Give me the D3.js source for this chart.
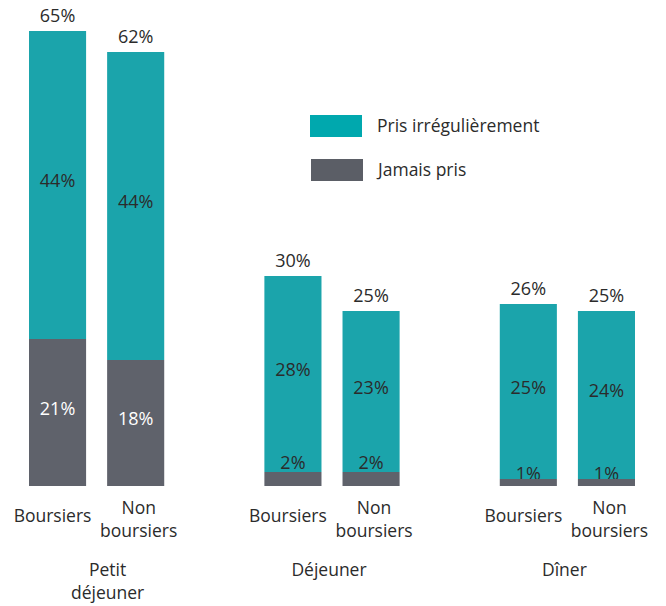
<!DOCTYPE html>
<html>
<head>
<meta charset="utf-8">
<script src="https://cdn.jsdelivr.net/npm/d3@7"></script>
<style>
  html, body { margin: 0; padding: 0; background: #fff; }
  svg text { font-family: "Open Sans", sans-serif; }
</style>
</head>
<body>
<svg id="chart" width="666" height="606"></svg>
<script>
// Meal groups and student categories
const meals = ["Petit déjeuner", "Déjeuner", "Dîner"];
const mealLines = [["Petit", "déjeuner"], ["Déjeuner"], ["Dîner"]];
const statuses = ["Boursiers", "Non boursiers"];
const statusLines = [["Boursiers"], ["Non", "boursiers"]];

// Share of students (%) per meal, ordered [Boursiers, Non boursiers]
const jamaisPris = [[21, 18], [2, 2], [1, 1]];
const prisIrregulierement = [[44, 44], [28, 23], [25, 24]];

const seriesNames = ["Pris irrégulièrement", "Jamais pris"];
const colors = { bar: ["#1ba4ab", "#5f626b"], legend: ["#00a8ae", "#5b5e66"] };

const numSize = 18;
const textSize = 17.5;

const svg = d3.select("#chart");

const x0 = d3.scaleBand().domain(meals).range([29, 635]).paddingInner(100 / 235).paddingOuter(0);
const x1 = d3.scaleBand().domain(statuses).range([0, x0.bandwidth()]).paddingInner(21 / 78).paddingOuter(0);
const y = d3.scaleLinear().domain([0, 65]).range([486, 31]);

// Flatten to one record per bar
const bars = [];
meals.forEach((m, i) => statuses.forEach((s, j) => {
  const low = jamaisPris[i][j];
  const high = prisIrregulierement[i][j];
  bars.push({ meal: m, status: s, low, high, total: low + high, x: x0(m) + x1(s) });
}));

const w = x1.bandwidth();
const darkText = "#2b2b2b";

// Upper segment (Pris irrégulièrement)
svg.append("g").selectAll("rect").data(bars).join("rect")
  .attr("x", d => d.x).attr("width", w)
  .attr("y", d => y(d.total)).attr("height", d => y(d.low) - y(d.total))
  .attr("fill", colors.bar[0]);

// Labels in dark text: upper segments and thin lower segments
const dark = svg.append("g").attr("font-size", numSize).attr("fill", darkText).attr("text-anchor", "middle");
dark.selectAll("text.hi").data(bars).join("text").attr("class", "hi")
  .attr("x", d => d.x + w / 2)
  .attr("y", d => (y(d.total) + y(d.low)) / 2 + 2)
  .text(d => d.high + "%");
const thin = bars.filter(d => y(0) - y(d.low) < 30);
dark.selectAll("text.lo").data(thin).join("text").attr("class", "lo")
  .attr("x", d => d.x + w / 2)
  .attr("y", d => y(d.low) + 4 - (y(0) - y(d.low)) / 2)
  .text(d => d.low + "%");

// Lower segment (Jamais pris)
svg.append("g").selectAll("rect").data(bars).join("rect")
  .attr("x", d => d.x).attr("width", w)
  .attr("y", d => y(d.low)).attr("height", d => y(0) - y(d.low))
  .attr("fill", colors.bar[1]);

// White labels on tall lower segments
const tall = bars.filter(d => y(0) - y(d.low) >= 30);
svg.append("g").attr("font-size", numSize).attr("fill", "#fff").attr("text-anchor", "middle")
  .selectAll("text").data(tall).join("text")
  .attr("x", d => d.x + w / 2)
  .attr("y", d => (y(d.low) + y(0)) / 2 + 2)
  .text(d => d.low + "%");

// Totals above bars
svg.append("g").attr("font-size", numSize).attr("fill", darkText).attr("text-anchor", "middle")
  .selectAll("text").data(bars).join("text")
  .attr("x", d => d.x + w / 2)
  .attr("y", d => y(d.total) - 9)
  .text(d => d.total + "%");

// Category labels under each bar
const catG = svg.append("g").attr("font-size", textSize).attr("fill", darkText).attr("text-anchor", "middle");
bars.forEach(d => {
  const j = statuses.indexOf(d.status);
  const lines = statusLines[j];
  const dx = j === 0 ? -5 : 3;
  const t = catG.append("text").attr("x", d.x + w / 2 + dx).attr("y", lines.length === 1 ? 522 : 514);
  lines.forEach((l, k) => t.append("tspan").attr("x", d.x + w / 2 + dx).attr("dy", k === 0 ? 0 : 23).text(l));
});

// Meal group labels
const grpG = svg.append("g").attr("font-size", textSize).attr("fill", darkText).attr("text-anchor", "middle");
meals.forEach((m, i) => {
  const cx = x0(m) + x0.bandwidth() / 2 + (mealLines[i].length > 1 ? 11 : -3);
  const t = grpG.append("text").attr("x", cx).attr("y", 576);
  mealLines[i].forEach((l, k) => t.append("tspan").attr("x", cx).attr("dy", k === 0 ? 0 : 23).text(l));
});

// Legend
const legend = svg.append("g").attr("font-size", textSize).attr("fill", darkText);
const legendY = [115, 159];
const legendX = [310, 311];
seriesNames.forEach((name, i) => {
  legend.append("rect").attr("x", legendX[i]).attr("y", legendY[i]).attr("width", 52).attr("height", 22)
    .attr("fill", colors.legend[i]);
  legend.append("text").attr("x", legendX[i] + 67).attr("y", legendY[i] + 17).text(name);
});
</script>
</body>
</html>
